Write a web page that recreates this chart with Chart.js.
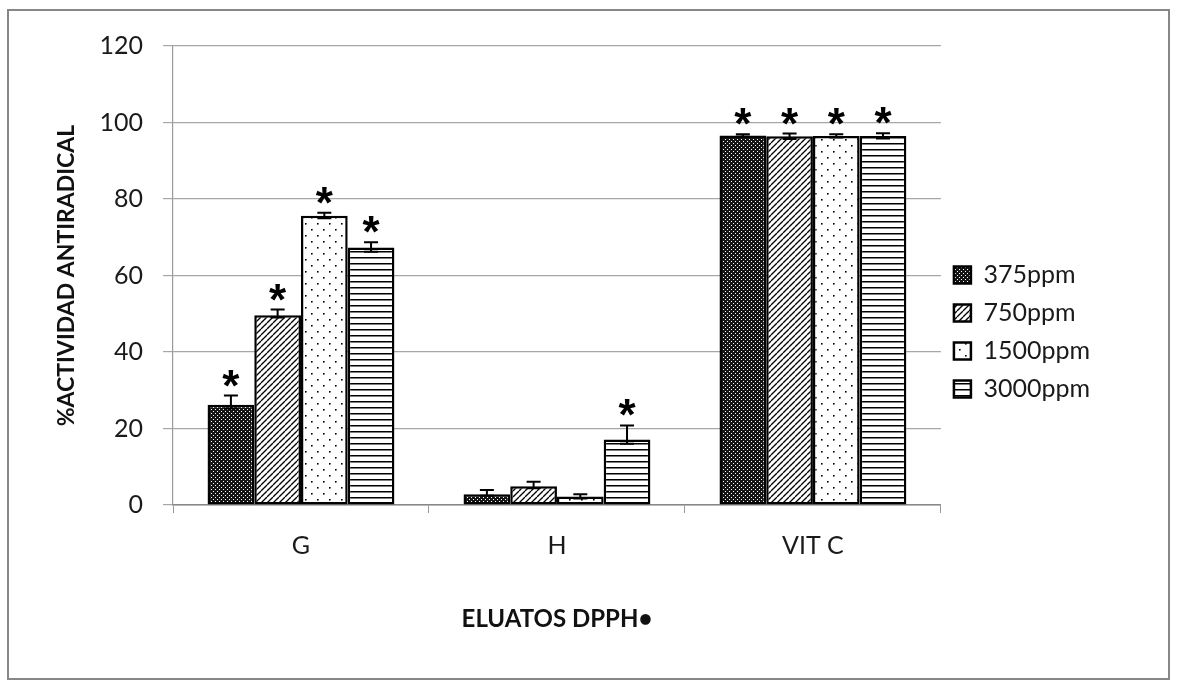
<!DOCTYPE html>
<html>
<head>
<meta charset="utf-8">
<script src="https://cdn.jsdelivr.net/npm/chart.js@4/dist/chart.umd.min.js"></script>
<style>
  body { margin: 0; background: #fff; }
  #frame {
    position: absolute; left: 7px; top: 9px; width: 1163px; height: 671px;
    border: 2px solid #878787; box-sizing: border-box; background: #fff;
  }
  #frame canvas { display: block; }
</style>
</head>
<body>
<div id="frame"><canvas id="chart" width="1159" height="667"></canvas></div>
<script>
// data
const categories = ['G', 'H', 'VIT C'];
const seriesNames = ['375ppm', '750ppm', '1500ppm', '3000ppm'];
const values375 = [26.2, 2.8, 96.6];
const values750 = [49.6, 4.9, 96.4];
const values1500 = [75.6, 2.2, 96.5];
const values3000 = [67.3, 17.1, 96.5];
const errUp375 = [2.4, 1.1, 0.3];
const errUp750 = [1.5, 1.2, 0.7];
const errUp1500 = [0.8, 0.6, 0.4];
const errUp3000 = [1.4, 3.7, 0.7];
const errDown375 = [1.0, 0.4, 0.3];
const errDown750 = [0.6, 0.5, 0.7];
const errDown1500 = [0.6, 0.5, 0.4];
const errDown3000 = [1.1, 1.1, 0.7];
const stars375 = [true, false, true];
const stars750 = [true, false, true];
const stars1500 = [true, false, true];
const stars3000 = [true, true, true];

const FONT = 'Lato, "Open Sans", sans-serif';

function makePattern(size, draw) {
  const c = document.createElement('canvas');
  c.width = size; c.height = size;
  const ctx = c.getContext('2d');
  draw(ctx, size);
  return ctx.createPattern(c, 'repeat');
}

// dark lattice
const pat375 = makePattern(4, (ctx, s) => {
  ctx.fillStyle = '#151515';
  ctx.fillRect(0, 0, s, s);
  ctx.fillStyle = '#ffffff';
  ctx.fillRect(0, 0, 1, 1);
  ctx.fillRect(2, 2, 1, 1);
});
// diagonal lines
const pat750 = makePattern(6, (ctx, s) => {
  ctx.fillStyle = '#fff';
  ctx.fillRect(0, 0, s, s);
  ctx.strokeStyle = '#000';
  ctx.lineWidth = 1.3;
  for (const o of [-s, 0, s]) {
    ctx.beginPath();
    ctx.moveTo(o, s);
    ctx.lineTo(o + s, 0);
    ctx.stroke();
  }
});
// sparse dots
const pat1500 = makePattern(12, (ctx, s) => {
  ctx.fillStyle = '#fff';
  ctx.fillRect(0, 0, s, s);
  ctx.fillStyle = '#000';
  ctx.fillRect(2, 2, 1.6, 1.6);
  ctx.fillRect(8, 8, 1.6, 1.6);
});
// horizontal lines
const pat3000 = makePattern(6, (ctx, s) => {
  ctx.fillStyle = '#fff';
  ctx.fillRect(0, 0, s, s);
  ctx.fillStyle = '#000';
  ctx.fillRect(0, 0, s, 1.5);
});

function series(label, data, pattern, up, down, stars) {
  return {
    label, data,
    backgroundColor: pattern,
    borderColor: '#000',
    borderWidth: 2.5,
    borderSkipped: false,
    categoryPercentage: 0.73,
    barPercentage: 1.0,
    errUp: up, errDown: down, stars
  };
}

const errorBars = {
  id: 'errorBars',
  afterDatasetsDraw(chart) {
    const ctx = chart.ctx;
    const y = chart.scales.y;
    chart.data.datasets.forEach((ds, i) => {
      const meta = chart.getDatasetMeta(i);
      meta.data.forEach((bar, j) => {
        const v = ds.data[j];
        const top = y.getPixelForValue(v + ds.errUp[j]);
        const bot = y.getPixelForValue(v - ds.errDown[j]);
        ctx.save();
        ctx.strokeStyle = '#000';
        ctx.lineWidth = 2;
        ctx.beginPath();
        ctx.moveTo(bar.x, top); ctx.lineTo(bar.x, bot);
        ctx.moveTo(bar.x - 7, top); ctx.lineTo(bar.x + 7, top);
        ctx.moveTo(bar.x - 7, bot); ctx.lineTo(bar.x + 7, bot);
        ctx.stroke();
        if (ds.stars[j]) {
          ctx.fillStyle = '#000';
          ctx.font = 'bold 44px "Liberation Sans", Arial, sans-serif';
          ctx.textAlign = 'center';
          ctx.textBaseline = 'alphabetic';
          ctx.fillText('*', bar.x, top + 5);
        }
        ctx.restore();
      });
    });
  }
};

new Chart(document.getElementById('chart'), {
  type: 'bar',
  data: {
    labels: categories,
    datasets: [
      series(seriesNames[0], values375, pat375, errUp375, errDown375, stars375),
      series(seriesNames[1], values750, pat750, errUp750, errDown750, stars750),
      series(seriesNames[2], values1500, pat1500, errUp1500, errDown1500, stars1500),
      series(seriesNames[3], values3000, pat3000, errUp3000, errDown3000, stars3000)
    ]
  },
  options: {
    responsive: false,
    animation: false,
    layout: { padding: { top: 15, right: 68, bottom: 40, left: 40 } },
    plugins: {
      tooltip: { enabled: false },
      legend: {
        position: 'right',
        labels: {
          boxWidth: 17,
          boxHeight: 17,
          padding: 13,
          color: '#1a1a1a',
          font: { family: FONT, size: 25 }
        }
      }
    },
    scales: {
      x: {
        afterFit(scale) { scale.height = 133; },
        grid: {
          offset: true,
          drawOnChartArea: false,
          tickLength: 8,
          color: '#999'
        },
        border: { color: '#888', width: 1.5 },
        ticks: { color: '#1a1a1a', padding: 18, font: { family: FONT, size: 25 } },
        title: {
          display: true,
          text: 'ELUATOS DPPH•',
          color: '#111',
          font: { family: FONT, size: 24, weight: 'bold' },
          padding: { top: 20 }
        }
      },
      y: {
        min: 0,
        max: 120,
        afterFit(scale) { scale.width = 124; },
        ticks: { stepSize: 20, color: '#1a1a1a', padding: 20, font: { family: FONT, size: 25 } },
        grid: { color: '#a6a6a6', lineWidth: 1.2, tickLength: 10 },
        border: { color: '#999', width: 1.2 },
        title: {
          display: true,
          text: '%ACTIVIDAD ANTIRADICAL',
          color: '#111',
          font: { family: FONT, size: 23, weight: 'bold' },
          padding: { bottom: 0 }
        }
      }
    }
  },
  plugins: [errorBars]
});
</script>
</body>
</html>
